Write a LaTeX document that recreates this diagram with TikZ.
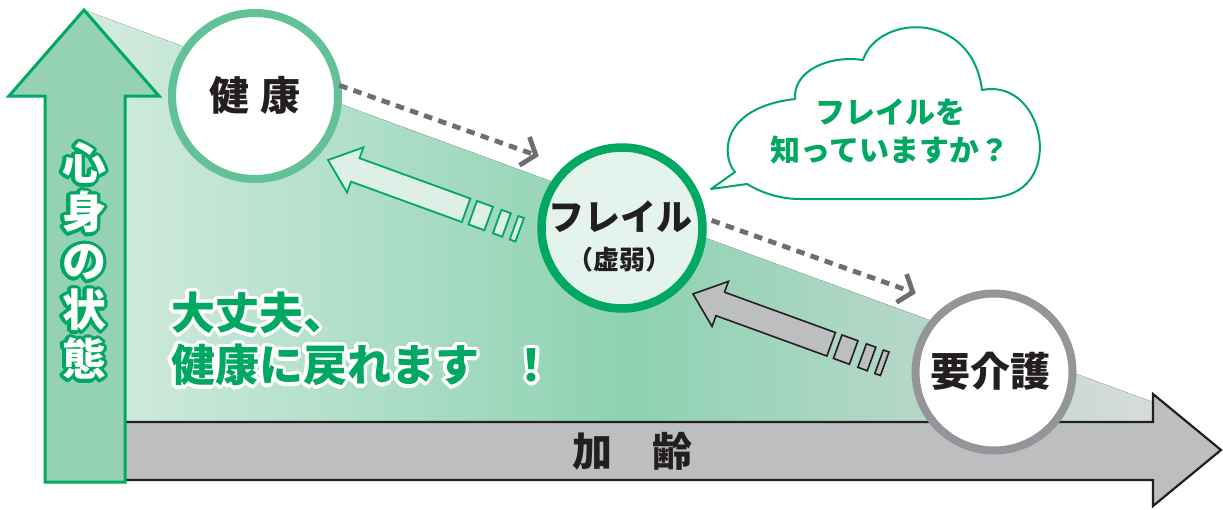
\documentclass[tikz,border=0pt]{standalone}
\usepackage{fontspec}
\newfontfamily\jp{Noto Sans CJK JP}
\usetikzlibrary{calc,arrows.meta}
\definecolor{gdark}{HTML}{00A862}
\definecolor{gring}{HTML}{62C196}
\definecolor{frailfill}{HTML}{E4F3EC}
\definecolor{hollowfill}{HTML}{DDEFE6}
\definecolor{upfill}{HTML}{95D1B5}
\definecolor{wl}{HTML}{D3EBE0}
\definecolor{wm}{HTML}{8DD2B2}
\definecolor{wr}{HTML}{D7DBDA}
\definecolor{grayring}{HTML}{939598}
\definecolor{barfill}{HTML}{BCBEC0}
\definecolor{dotc}{HTML}{6D6E71}
\definecolor{txt}{HTML}{231F20}
\newcommand\outlinetext[7]{%
  \foreach \ang in {0,20,...,340}{%
    \node[#3, text=#4, name=#1-o\ang] at ($(#2)+(\ang:#6)$) {#7};}
  \foreach \ang in {10,30,...,350}{%
    \node[#3, text=#4, name=#1-i\ang] at ($(#2)+(\ang:#6*0.6)$) {#7};}
  \node[#3, text=#5, name=#1] at (#2) {#7};}
\tikzset{
  ring/.style={circle, inner sep=0pt},
  bigtxt/.style={font=\jp\bfseries\fontsize{40pt}{48pt}\selectfont, text=txt, inner sep=0pt},
  dotline/.style={draw=dotc, line width=4.8pt, dash pattern=on 8.5pt off 6.5pt,
    -{Straight Barb[length=12pt,width=30pt]}},
  backarrow/.pic={
    \path[pic actions] (0,0) -- (29,-24) -- (29,-12.5) -- (147,-12.5) -- (147,12.5) -- (29,12.5) -- (29,24) -- cycle;
    \path[pic actions] (154,-12.5) rectangle (171,12.5);
    \path[pic actions] (180,-12.5) rectangle (190,12.5);
    \path[pic actions] (198,-12.5) rectangle (204,12.5);
  },
  cloudline/.style={draw=gdark, fill=white, line width=2pt, line join=round},
}
\begin{document}
\begin{tikzpicture}[x=1pt,y=-1pt]
\useasboundingbox (0,0) rectangle (1223,509);
% background wedge
\begin{scope}
  \clip (84,10) -- (1153,402) -- (1153,430) -- (84,430) -- cycle;
  \fill[left color=wl, right color=wm] (84,0) rectangle (630,430);
  \fill[left color=wm, right color=wr] (629.5,0) rectangle (1154,430);
\end{scope}
% age arrow
\draw[fill=barfill, draw=txt, line width=2.2pt, line join=miter]
  (100,422) -- (1153,422) -- (1153,394) -- (1221,450) -- (1153,506) -- (1153,480) -- (100,480) -- cycle;
\node[bigtxt] (age) at (632,451) {加　齢};
% up arrow
\draw[fill=upfill, draw=gdark, line width=3pt, line join=miter]
  (84,10) -- (159,96) -- (125,96) -- (125,482) -- (45,482) -- (45,96) -- (9,96) -- cycle;
\outlinetext{state}{84,261}{font=\jp\bfseries\fontsize{44pt}{49pt}\selectfont, align=center, inner sep=0pt}{gdark}{white}{3.2pt}{心\\身\\の\\状\\態}
% circles
\node[ring, minimum size=166pt, draw=gring, line width=8pt, fill=white] (kenko) at (255,96) {};
\node[bigtxt] (kenkotxt) at (255,95) {健\hspace{11pt}康};
\node[ring, minimum size=161pt, draw=gdark, line width=8.5pt, fill=frailfill] (frail) at (622,228) {};
\node[bigtxt, font=\jp\bfseries\fontsize{36pt}{40pt}\selectfont] (frailtxt) at (620,217) {フレイル};
\node[bigtxt, font=\jp\bfseries\fontsize{26pt}{30pt}\selectfont] (frailsub) at (619,260) {（虚弱）};
\node[ring, minimum size=157pt, draw=grayring, line width=8pt, fill=white] (yokai) at (994,372) {};
\node[bigtxt] (yokaitxt) at (990,371) {要介護};
% dotted arrows
\draw[dotline] ($(kenko)!85pt!27:(frail)$) -- ($(frail)!110pt!-21:(kenko)$);
\draw[dotline] ($(frail)!90pt!26:(yokai)$) -- ($(yokai)!111pt!-24:(frail)$);
% hollow arrows
\pic[draw=gdark, fill=hollowfill, line width=1.8pt, line join=miter, rotate=-20] (back1) at (328,160) {backarrow};
\pic[draw=txt, fill=barfill, line width=1.6pt, line join=miter, rotate=-20] (back2) at (693,294) {backarrow};
% cloud
\draw[cloudline] (747,184) -- (711,189) -- (735,172)
  .. controls (722,158) and (718,108) .. (795,99)
  .. controls (793,70) and (830,55) .. (863,60)
  .. controls (878,14) and (972,10) .. (982,90)
  .. controls (1032,80) and (1056,150) .. (1028,182)
  .. controls (1015,197) and (995,199) .. (970,199)
  -- (800,199)
  .. controls (780,199) and (762,193) .. (747,184) -- cycle;
\node[font=\jp\bfseries\fontsize{30pt}{38pt}\selectfont, text=gdark, align=center, inner sep=0pt] (question) at (890,131) {フレイルを\\知っていますか？};
% message
\outlinetext{msg}{171,339}{font=\jp\bfseries\fontsize{44pt}{52pt}\selectfont, align=left, anchor=west, inner sep=0pt}{white}{gdark}{3.5pt}{大丈夫、\\健康に戻れます\hspace{0.7em}！}
\end{tikzpicture}
\end{document}
